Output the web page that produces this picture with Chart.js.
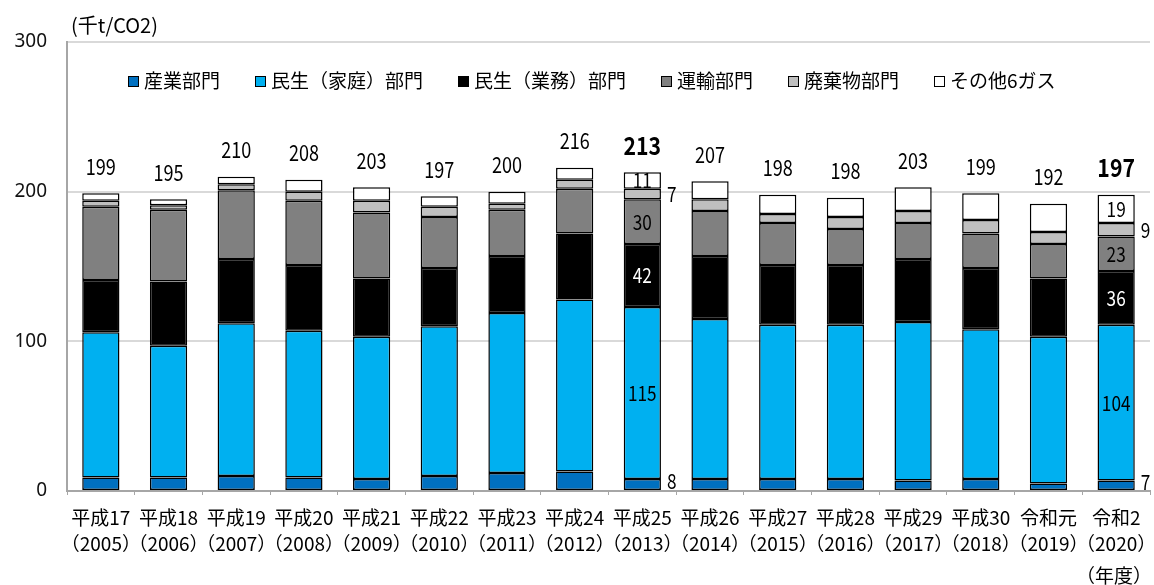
<!DOCTYPE html>
<html><head><meta charset="utf-8">
<script src="https://cdn.jsdelivr.net/npm/chart.js@4/dist/chart.umd.min.js"></script>
<style>html,body{margin:0;padding:0;background:#fff}canvas{display:block}</style>
</head><body>
<canvas id="c" width="1154" height="585"></canvas>
<script>
const categories = [
  ['平成17','（2005）'],['平成18','（2006）'],['平成19','（2007）'],['平成20','（2008）'],
  ['平成21','（2009）'],['平成22','（2010）'],['平成23','（2011）'],['平成24','（2012）'],
  ['平成25','（2013）'],['平成26','（2014）'],['平成27','（2015）'],['平成28','（2016）'],
  ['平成29','（2017）'],['平成30','（2018）'],['令和元','（2019）'],['令和2','（2020）']
];
const seriesNames = ['産業部門','民生（家庭）部門','民生（業務）部門','運輸部門','廃棄物部門','その他6ガス'];
const industry  = [9, 9, 10, 9, 8, 10, 12, 13, 8, 8, 8, 8, 7, 8, 5, 7];
const household = [97, 88, 102, 98, 95, 100, 107, 115, 115, 107, 103, 103, 106, 100, 98, 104];
const business  = [35, 43, 43, 44, 39, 39, 38, 44, 42, 42, 40, 40, 42, 41, 39, 36];
const transport = [49, 48, 46, 43, 44, 34, 31, 30, 30, 30, 28, 24, 24, 23, 23, 23];
const waste     = [4, 3, 4, 6, 8, 7, 4, 6, 7, 8, 6, 8, 8, 9, 8, 9];
const other     = [5, 4, 5, 8, 9, 7, 8, 8, 11, 12, 13, 13, 16, 18, 19, 19];
const totals    = [199, 195, 210, 208, 203, 197, 200, 216, 213, 207, 198, 198, 203, 199, 192, 197];
const highlighted = [8, 15];
const yTicks = [0, 100, 200, 300];
const unitLabel = '(千t/CO2)';
const yearLabel = '（年度）';

const colors = ['#0070C0','#00B0F0','#000000','#808080','#BFBFBF','#FFFFFF'];
const seriesData = [industry, household, business, transport, waste, other];
const CJK = '"Noto Sans CJK JP", "Noto Sans", sans-serif';

function drawText(ctx, txt, x, y, font, color, sx, align) {
  ctx.save();
  ctx.translate(x, y);
  ctx.scale(sx, 1);
  ctx.font = font;
  ctx.fillStyle = color;
  ctx.textAlign = align || 'center';
  ctx.textBaseline = 'middle';
  ctx.fillText(txt, 0, 0);
  ctx.restore();
}

const annot = {
  id: 'annot',
  afterDatasetsDraw(chart) {
    const ctx = chart.ctx;
    const n = chart.data.datasets.length;
    const lastMeta = chart.getDatasetMeta(n - 1);
    totals.forEach((t, i) => {
      const el = lastMeta.data[i].getProps(['x','y'], true);
      const bold = highlighted.includes(i);
      drawText(ctx, String(t), el.x, el.y - 27,
        bold ? 'bold 25px ' + CJK : '22px ' + CJK, '#000', bold ? 0.85 : 0.82);
    });
    highlighted.forEach(i => {
      for (let d = 0; d < n; d++) {
        const el = chart.getDatasetMeta(d).data[i].getProps(['x','y','base','width'], true);
        const v = chart.data.datasets[d].data[i];
        const cy = (el.y + el.base) / 2;
        if (d === 0 || d === 4) {
          drawText(ctx, String(v), el.x + el.width / 2 + 6, cy - (d === 0 ? 3 : 0), '21px ' + CJK, '#000', 0.82, 'left');
        } else {
          drawText(ctx, String(v), el.x, cy, '21px ' + CJK, d === 2 ? '#fff' : '#000', 0.82);
        }
      }
    });
  },
  afterDraw(chart) {
    const ctx = chart.ctx;
    let x = 128;
    const y = 81;
    ctx.save();
    ctx.font = '19px ' + CJK;
    ctx.textBaseline = 'middle';
    ctx.textAlign = 'left';
    chart.data.datasets.forEach(ds => {
      ctx.fillStyle = ds.backgroundColor;
      ctx.fillRect(x, y - 5, 10, 10);
      ctx.strokeStyle = '#000';
      ctx.lineWidth = 1;
      ctx.strokeRect(x + 0.5, y - 4.5, 10, 10);
      ctx.fillStyle = '#000';
      ctx.fillText(ds.label, x + 16, y);
      x += 16 + ctx.measureText(ds.label).width + 35;
    });
    ctx.font = '20px ' + CJK;
    ctx.fillText(unitLabel, 71, 25);
    ctx.textAlign = 'right';
    ctx.font = '19px ' + CJK;
    ctx.fillText(yearLabel, 1152, 576);
    ctx.restore();
  }
};

new Chart(document.getElementById('c'), {
  type: 'bar',
  data: {
    labels: categories,
    datasets: seriesNames.map((name, i) => ({
      label: name,
      data: seriesData[i],
      backgroundColor: colors[i],
      borderColor: '#000',
      borderWidth: 1.5,
      borderSkipped: false,
      categoryPercentage: 1,
      barPercentage: 0.55
    }))
  },
  options: {
    responsive: false,
    animation: false,
    devicePixelRatio: 1,
    layout: { padding: { top: 42, right: 4, left: 0, bottom: 0 } },
    plugins: { legend: { display: false }, tooltip: { enabled: false } },
    scales: {
      x: {
        stacked: true,
        grid: { display: true, drawOnChartArea: false, offset: true, tickLength: 4, color: '#a6a6a6', lineWidth: 1 },
        border: { color: '#a6a6a6', width: 2 },
        ticks: { autoSkip: false, maxRotation: 0, minRotation: 0, padding: 10, color: '#000',
                 font: { family: CJK, size: 19, lineHeight: 1.37 } },
        afterFit(s) { s.height = 94; s.paddingLeft = 0; s.paddingRight = 0; }
      },
      y: {
        stacked: true,
        min: 0, max: 300,
        afterBuildTicks(s) { s.ticks = yTicks.map(v => ({ value: v })); },
        grid: { color: '#d9d9d9', lineWidth: 2, drawTicks: false },
        border: { color: '#a6a6a6', width: 2 },
        ticks: { padding: 20, color: '#111', font: { family: '"Noto Sans", sans-serif', size: 19 } },
        afterFit(s) { s.width = 67; }
      }
    }
  },
  plugins: [annot]
});
</script>
</body></html>
